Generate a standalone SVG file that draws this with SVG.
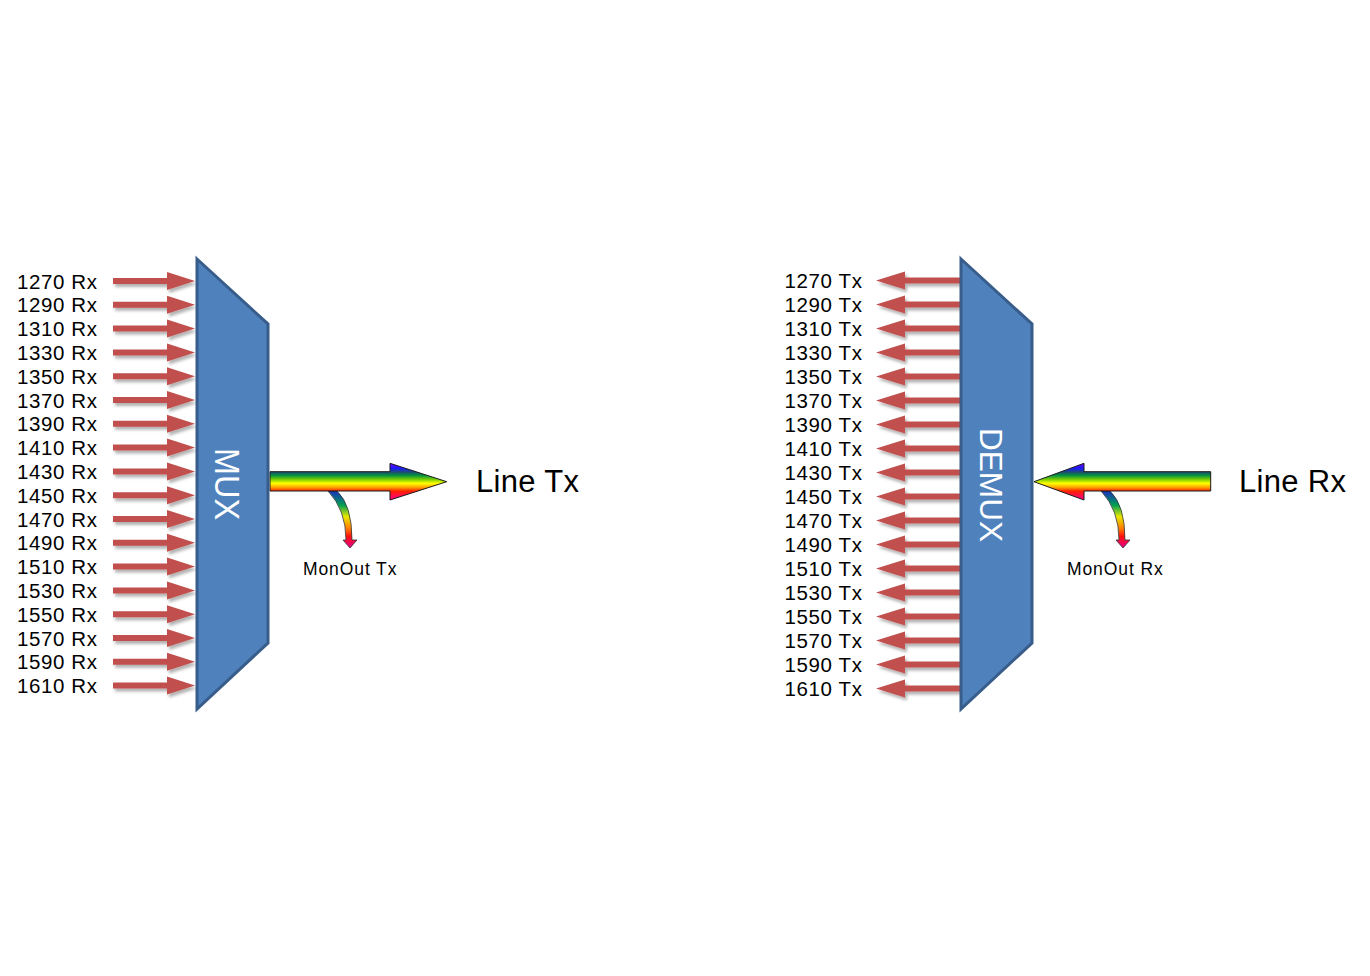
<svg xmlns="http://www.w3.org/2000/svg" xmlns:xlink="http://www.w3.org/1999/xlink" width="1370" height="976" viewBox="0 0 1370 976">
  <style>
    .lbl { font-family: "Liberation Sans", Arial, sans-serif; font-size: 20.5px; letter-spacing: 0.6px; fill: #000; }
    .big { font-family: "Liberation Sans", Arial, sans-serif; font-size: 31px; letter-spacing: 0.3px; fill: #000; }
    .mon { font-family: "Liberation Sans", Arial, sans-serif; font-size: 17.5px; letter-spacing: 0.9px; fill: #000; }
    .blk { font-family: "Liberation Sans", Arial, sans-serif; fill: #fff; text-anchor: middle; }
    .box { fill: #4F81BD; stroke: #385D8A; stroke-width: 3; stroke-linejoin: miter; }
    .red { fill: #C0504D; }
    .rain { stroke: #1a1a1a; stroke-width: 1; }
    .mono { stroke: #333; stroke-width: 0.8; }
  </style>
  <defs>
    <filter id="sh" x="-20%" y="-50%" width="140%" height="220%">
      <feDropShadow dx="2" dy="3" stdDeviation="1.5" flood-color="#000" flood-opacity="0.3"/>
    </filter>
    <path id="ar" d="M0 -3 H54 V-9 L82 0 L54 9 V3 H0 Z"/>
    <path id="al" d="M0 0 L29 -9 V-3 H84 V3 H29 V9 Z"/>
    <linearGradient id="rb" gradientUnits="userSpaceOnUse" x1="0" y1="463" x2="0" y2="500">
      <stop offset="0" stop-color="#8000ff"/>
      <stop offset="0.14" stop-color="#1a1aff"/>
      <stop offset="0.25" stop-color="#1f4f6f"/>
      <stop offset="0.33" stop-color="#009040"/>
      <stop offset="0.45" stop-color="#80d000"/>
      <stop offset="0.55" stop-color="#ffff00"/>
      <stop offset="0.66" stop-color="#ffa000"/>
      <stop offset="0.76" stop-color="#ff2000"/>
      <stop offset="1" stop-color="#ff0090"/>
    </linearGradient>
    <linearGradient id="mg" gradientUnits="userSpaceOnUse" x1="0" y1="491" x2="0" y2="548">
      <stop offset="0" stop-color="#1a30c0"/>
      <stop offset="0.25" stop-color="#00a050"/>
      <stop offset="0.45" stop-color="#e8e800"/>
      <stop offset="0.65" stop-color="#ff8000"/>
      <stop offset="0.8" stop-color="#ff1010"/>
      <stop offset="1" stop-color="#e00090"/>
    </linearGradient>
    <path id="mon" d="M328 491 L337 491 Q352 505 352 540 L357 540 L350 548 L343 540 L346 540 Q346 510 328 491 Z"/>
  </defs>

  <rect x="0" y="0" width="1370" height="976" fill="#fff"/>

  <g id="connectors">
    <g id="rx-arrows" class="red" filter="url(#sh)">
      <use xlink:href="#ar" transform="translate(113,281)"/>
      <use xlink:href="#ar" transform="translate(113,304.8)"/>
      <use xlink:href="#ar" transform="translate(113,328.6)"/>
      <use xlink:href="#ar" transform="translate(113,352.4)"/>
      <use xlink:href="#ar" transform="translate(113,376.2)"/>
      <use xlink:href="#ar" transform="translate(113,400)"/>
      <use xlink:href="#ar" transform="translate(113,423.8)"/>
      <use xlink:href="#ar" transform="translate(113,447.6)"/>
      <use xlink:href="#ar" transform="translate(113,471.4)"/>
      <use xlink:href="#ar" transform="translate(113,495.2)"/>
      <use xlink:href="#ar" transform="translate(113,519)"/>
      <use xlink:href="#ar" transform="translate(113,542.8)"/>
      <use xlink:href="#ar" transform="translate(113,566.6)"/>
      <use xlink:href="#ar" transform="translate(113,590.4)"/>
      <use xlink:href="#ar" transform="translate(113,614.2)"/>
      <use xlink:href="#ar" transform="translate(113,638)"/>
      <use xlink:href="#ar" transform="translate(113,661.8)"/>
      <use xlink:href="#ar" transform="translate(113,685.6)"/>
    </g>
    <g id="tx-arrows" class="red" filter="url(#sh)">
      <use xlink:href="#al" transform="translate(876,280.5)"/>
      <use xlink:href="#al" transform="translate(876,304.5)"/>
      <use xlink:href="#al" transform="translate(876,328.5)"/>
      <use xlink:href="#al" transform="translate(876,352.5)"/>
      <use xlink:href="#al" transform="translate(876,376.5)"/>
      <use xlink:href="#al" transform="translate(876,400.5)"/>
      <use xlink:href="#al" transform="translate(876,424.5)"/>
      <use xlink:href="#al" transform="translate(876,448.5)"/>
      <use xlink:href="#al" transform="translate(876,472.5)"/>
      <use xlink:href="#al" transform="translate(876,496.5)"/>
      <use xlink:href="#al" transform="translate(876,520.5)"/>
      <use xlink:href="#al" transform="translate(876,544.5)"/>
      <use xlink:href="#al" transform="translate(876,568.5)"/>
      <use xlink:href="#al" transform="translate(876,592.5)"/>
      <use xlink:href="#al" transform="translate(876,616.5)"/>
      <use xlink:href="#al" transform="translate(876,640.5)"/>
      <use xlink:href="#al" transform="translate(876,664.5)"/>
      <use xlink:href="#al" transform="translate(876,688.5)"/>
    </g>
    <g id="line-tx-arrow">
      <use xlink:href="#mon" fill="url(#mg)" class="mono"/>
      <path class="rain" fill="url(#rb)" d="M270 471.7 H390 V463.3 L446.7 481.7 L390 500 V491 H270 Z"/>
    </g>
    <g id="line-rx-arrow">
      <use xlink:href="#mon" fill="url(#mg)" class="mono" transform="translate(773,0)"/>
      <path class="rain" fill="url(#rb)" d="M1034 481.7 L1084 463.3 V471.7 H1210.7 V491 H1084 V500 Z"/>
    </g>
  </g>

  <g id="mux">
    <polygon class="box" points="197,259 268,324 268,643 197,709"/>
    <text class="blk" font-size="35" textLength="72" lengthAdjust="spacingAndGlyphs" transform="translate(215,484) rotate(90)">MUX</text>
  </g>
  <g id="demux">
    <polygon class="box" points="961,259 1032,324 1032,643 961,709"/>
    <text class="blk" font-size="32" textLength="114" lengthAdjust="spacingAndGlyphs" transform="translate(980,485) rotate(90)">DEMUX</text>
  </g>

  <g id="rx-labels" class="lbl">
    <text x="17" y="288.5">1270 Rx</text>
    <text x="17" y="312.3">1290 Rx</text>
    <text x="17" y="336.1">1310 Rx</text>
    <text x="17" y="359.9">1330 Rx</text>
    <text x="17" y="383.7">1350 Rx</text>
    <text x="17" y="407.5">1370 Rx</text>
    <text x="17" y="431.3">1390 Rx</text>
    <text x="17" y="455.1">1410 Rx</text>
    <text x="17" y="478.9">1430 Rx</text>
    <text x="17" y="502.7">1450 Rx</text>
    <text x="17" y="526.5">1470 Rx</text>
    <text x="17" y="550.3">1490 Rx</text>
    <text x="17" y="574.1">1510 Rx</text>
    <text x="17" y="597.9">1530 Rx</text>
    <text x="17" y="621.7">1550 Rx</text>
    <text x="17" y="645.5">1570 Rx</text>
    <text x="17" y="669.3">1590 Rx</text>
    <text x="17" y="693.1">1610 Rx</text>
  </g>
  <g id="tx-labels" class="lbl" text-anchor="end">
    <text x="862.5" y="288">1270 Tx</text>
    <text x="862.5" y="312">1290 Tx</text>
    <text x="862.5" y="336">1310 Tx</text>
    <text x="862.5" y="360">1330 Tx</text>
    <text x="862.5" y="384">1350 Tx</text>
    <text x="862.5" y="408">1370 Tx</text>
    <text x="862.5" y="432">1390 Tx</text>
    <text x="862.5" y="456">1410 Tx</text>
    <text x="862.5" y="480">1430 Tx</text>
    <text x="862.5" y="504">1450 Tx</text>
    <text x="862.5" y="528">1470 Tx</text>
    <text x="862.5" y="552">1490 Tx</text>
    <text x="862.5" y="576">1510 Tx</text>
    <text x="862.5" y="600">1530 Tx</text>
    <text x="862.5" y="624">1550 Tx</text>
    <text x="862.5" y="648">1570 Tx</text>
    <text x="862.5" y="672">1590 Tx</text>
    <text x="862.5" y="696">1610 Tx</text>
  </g>

  <g id="line-tx">
    <text class="big" x="476" y="492">Line Tx</text>
  </g>
  <g id="line-rx">
    <text class="big" x="1239" y="492">Line Rx</text>
  </g>
  <g id="monout-tx">
    <text class="mon" x="303" y="575">MonOut Tx</text>
  </g>
  <g id="monout-rx">
    <text class="mon" x="1067" y="575">MonOut Rx</text>
  </g>
</svg>
